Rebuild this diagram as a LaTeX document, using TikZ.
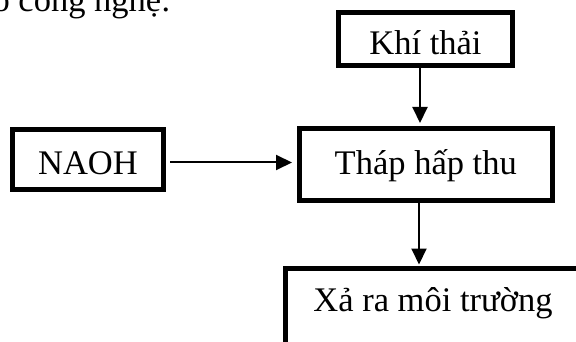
\documentclass[tikz,border=0pt]{standalone}
\usepackage{fontspec}
\setmainfont{Liberation Serif}
\usetikzlibrary{arrows.meta}
\begin{document}
\begin{tikzpicture}[x=1pt,y=-1pt,
  every node/.style={font=\fontsize{34.5}{40}\selectfont},
  box/.style={draw, line width=5pt, inner sep=0pt},
  arr/.style={line width=2pt, -{Triangle[width=15pt,length=16pt]}}]
  \useasboundingbox (0,0) rectangle (576,342);

  % heading line, partly above the page edge
  \node[anchor=base east, inner sep=0pt] (head) at (171,12) {Sơ đồ công nghệ:};

  % process boxes
  \node[box, minimum width=174pt, minimum height=53.5pt,
        text height=35.75pt, text depth=4.25pt] (khi) at (425.5,39.25) {Khí thải};
  \node[box, minimum width=253.5pt, minimum height=71.5pt,
        text height=30.25pt, text depth=9.75pt] (thap) at (425.75,164.75) {Tháp hấp thu};
  \node[box, minimum width=151pt, minimum height=60pt,
        text height=35.5pt, text depth=4.5pt] (naoh) at (88,159.5) {NAOH};
  \node[box, minimum width=295pt, minimum height=83pt,
        text height=21pt, text depth=19pt] (xa) at (433,310) {Xả ra môi trường};

  % connectors
  \coordinate (c1) at (420,0);
  \coordinate (c2) at (419,0);
  \coordinate (c3) at (0,162.5);
  \draw[arr] (khi.south -| c1) -- ([yshift=3.5pt]thap.north -| c1);
  \draw[arr] (thap.south -| c2) -- ([yshift=1.5pt]xa.north -| c2);
  \draw[arr] ([xshift=4pt]naoh.east |- c3) -- ([xshift=-4.5pt]thap.west |- c3);
\end{tikzpicture}
\end{document}
